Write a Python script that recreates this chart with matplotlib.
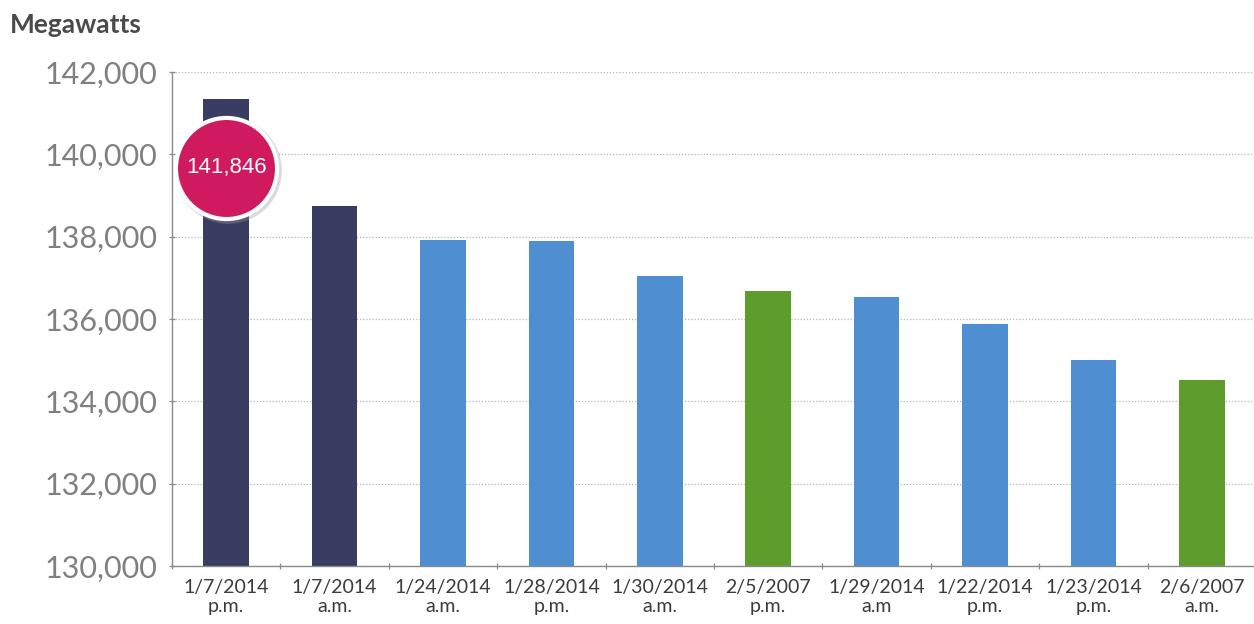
import numpy as np
import matplotlib.pyplot as plt

# peak-demand days, values
dates = ["1/7/2014", "1/7/2014", "1/24/2014", "1/28/2014", "1/30/2014",
         "2/5/2007", "1/29/2014", "1/22/2014", "1/23/2014", "2/6/2007"]
periods = ["p.m.", "a.m.", "a.m.", "p.m.", "a.m.",
           "p.m.", "a.m", "p.m.", "p.m.", "a.m."]
megawatts = [141350, 138750, 137920, 137900, 137050,
             136680, 136540, 135880, 135010, 134520]
groups = ["2014 top", "2014 top", "2014", "2014", "2014",
          "2007", "2014", "2014", "2014", "2007"]
peak_label = "141,846"

group_colors = {"2014 top": "#3a3d62", "2014": "#4f8ed0", "2007": "#5e9c2b"}
GRAY = "#8a8a8a"

plt.rcParams.update({
    "font.family": ["Lato", "DejaVu Sans"],
})

fig = plt.figure(figsize=(12.54, 6.24), dpi=100)
ax = fig.add_axes([172 / 1254, 58 / 624, 1084 / 1254, 494 / 624])

x = np.arange(len(dates))
ax.bar(x, np.array(megawatts) - 130000, bottom=130000, width=0.42,
       color=[group_colors[g] for g in groups], zorder=2)

ax.set_ylim(130000, 142000)
ax.set_xlim(-0.5, 9.5)
yt = np.arange(130000, 142001, 2000)
ax.set_yticks(yt)
ax.set_yticklabels([f"{v:,}" for v in yt], fontsize=22, color="#808080")
ax.yaxis.grid(True, ls=(0, (1, 1.5)), color="#b5b5b5", lw=0.9, zorder=0)

ax.set_xticks(x)
ax.set_xticklabels([f"{d}\n{p}" for d, p in zip(dates, periods)],
                   fontsize=14, color="#3c3c3c", linespacing=1.2)
ax.set_xticks(np.arange(-0.5, 9.6, 1), minor=True)
ax.tick_params(axis="x", which="major", length=0, pad=9)
ax.tick_params(axis="x", which="minor", length=5, color=GRAY, width=0.9,
               direction="inout")
ax.tick_params(axis="y", length=5, color=GRAY, width=0.9, direction="inout",
               pad=8)

for side in ["top", "right"]:
    ax.spines[side].set_visible(False)
for side in ["left", "bottom"]:
    ax.spines[side].set_color(GRAY)
    ax.spines[side].set_linewidth(1.0)

# highlight bubble on the peak bar
bubble_y = 139670
ax.scatter([x[0] + 0.02], [bubble_y - 60], s=5900, color="#999999", alpha=0.35,
           zorder=3, linewidths=0)
ax.scatter([x[0]], [bubble_y], s=5300, color="#cf1a5f", edgecolors="white",
           linewidths=3, zorder=4)
ax.text(x[0], bubble_y, peak_label, ha="center", va="center", color="white",
        fontsize=16, family=["Liberation Sans Narrow", "Liberation Sans"],
        zorder=5)

fig.text(10 / 1254, 1 - 25 / 624, "Megawatts", fontsize=19, fontweight="bold",
         color="#4a4a4a", va="center", ha="left")

fig.savefig("out.png", dpi=100)
